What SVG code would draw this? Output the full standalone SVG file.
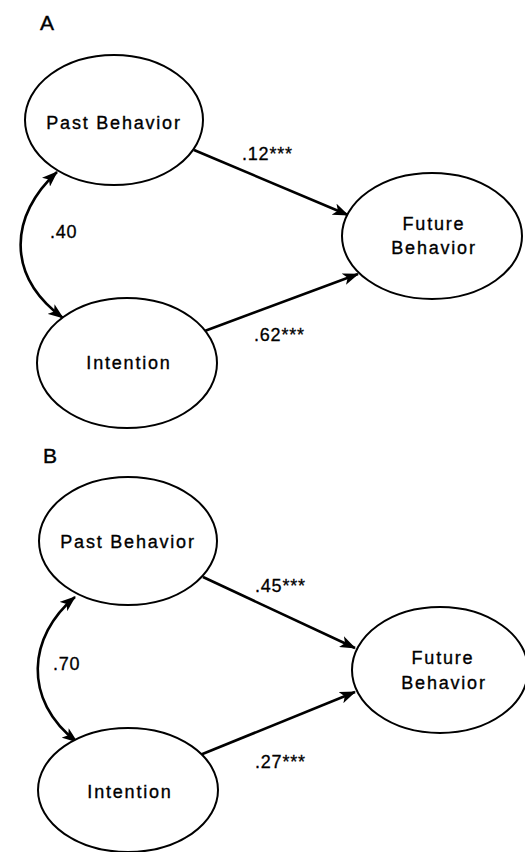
<svg xmlns="http://www.w3.org/2000/svg" width="525" height="852" viewBox="0 0 525 852">
<style>
.node ellipse{fill:#fff;stroke:#000;stroke-width:2}
.node text{font-family:"Liberation Sans",Arial,sans-serif;font-size:18px;letter-spacing:1.8px;text-anchor:middle;fill:#000;stroke:#000;stroke-width:0.35}
.lbl{font-family:"Liberation Sans",Arial,sans-serif;font-size:18px;letter-spacing:0.8px;fill:#000;stroke:#000;stroke-width:0.3}
.panel{font-family:"Liberation Sans",Arial,sans-serif;font-size:21px;fill:#000;stroke:#000;stroke-width:0.4}
.conn path{fill:none;stroke:#000;stroke-width:2.6}
</style>
<defs>
<marker id="ah" markerUnits="userSpaceOnUse" markerWidth="16" markerHeight="12" viewBox="0 0 16 12" refX="15" refY="6" orient="auto-start-reverse">
<path d="M0,0 L16,6 L0,12 L4,6 Z" fill="#000"/>
</marker>
</defs>
<rect width="525" height="852" fill="#fff"/>
<text class="panel" x="40" y="30">A</text>
<text class="panel" x="43" y="463">B</text>
<g class="conn">
<path d="M194,150 L348,215" marker-end="url(#ah)"/>
<path d="M202,332 L358,274" marker-end="url(#ah)"/>
<path d="M57,172 C10,215 5,275 63,318" marker-start="url(#ah)" marker-end="url(#ah)"/>
<path d="M203,577 L355,648" marker-end="url(#ah)"/>
<path d="M200,755 L355,692" marker-end="url(#ah)"/>
<path d="M75,597 C28,636 22,700 77,742" marker-start="url(#ah)" marker-end="url(#ah)"/>
</g>
<g id="a-past" class="node"><ellipse cx="114" cy="120" rx="89" ry="65"/><text x="114" y="129">Past Behavior</text></g>
<g id="a-future" class="node"><ellipse cx="432" cy="236" rx="90" ry="63"/><text x="434" y="230">Future</text><text x="434" y="254">Behavior</text></g>
<g id="a-intention" class="node"><ellipse cx="127" cy="363" rx="90" ry="65"/><text x="129" y="369">Intention</text></g>
<g id="b-past" class="node"><ellipse cx="128" cy="541" rx="89" ry="64"/><text x="128" y="548">Past Behavior</text></g>
<g id="b-future" class="node"><ellipse cx="440" cy="670" rx="88" ry="63"/><text x="443" y="664">Future</text><text x="444" y="689">Behavior</text></g>
<g id="b-intention" class="node"><ellipse cx="128" cy="790" rx="90" ry="62"/><text x="130" y="798">Intention</text></g>
<text class="lbl" x="242" y="160">.12***</text>
<text class="lbl" x="254" y="341">.62***</text>
<text class="lbl" x="50" y="238">.40</text>
<text class="lbl" x="255" y="592">.45***</text>
<text class="lbl" x="255" y="768">.27***</text>
<text class="lbl" x="53" y="670">.70</text>
</svg>
